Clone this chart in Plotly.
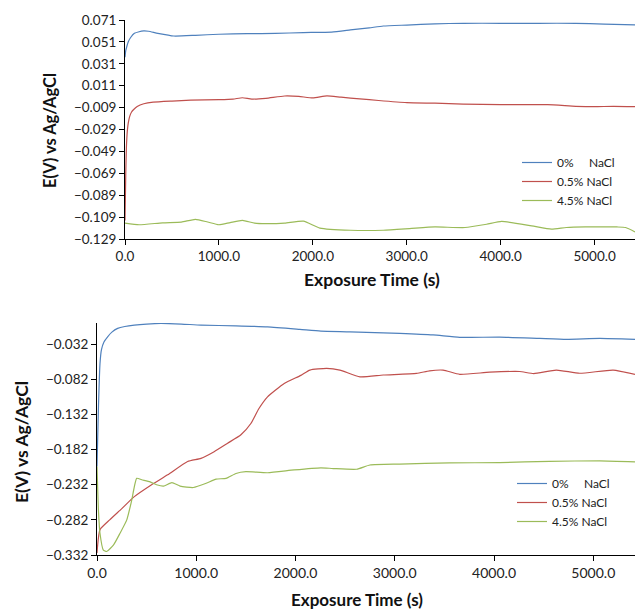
import plotly.graph_objects as go

# ---------------- Top panel data ----------------
top_blue_t = [0, 8, 20, 35, 60, 100, 150, 200, 250, 350, 520, 750, 1000, 1300, 1600, 1900, 2200, 2400, 2600, 2750, 3000, 3300, 3600, 4000, 4400, 4800, 5100, 5430]
top_blue_v = [0.037, 0.043, 0.047, 0.0512, 0.055, 0.0588, 0.0603, 0.061, 0.0607, 0.0588, 0.0564, 0.057, 0.058, 0.0585, 0.0588, 0.0595, 0.060, 0.0619, 0.0638, 0.0655, 0.0664, 0.0675, 0.068, 0.068, 0.068, 0.068, 0.0672, 0.0665]

top_red_t = [0, 8, 15, 25, 35, 50, 70, 90, 130, 200, 300, 500, 700, 1000, 1150, 1250, 1350, 1500, 1700, 1850, 2000, 2150, 2300, 2500, 2700, 3000, 3300, 3600, 4000, 4500, 4800, 5000, 5200, 5430]
top_red_v = [-0.112, -0.07, -0.045, -0.03, -0.023, -0.017, -0.013, -0.011, -0.008, -0.0055, -0.004, -0.003, -0.0022, -0.0017, -0.0012, 0.0, -0.0012, -0.0005, 0.0016, 0.0012, -0.0002, 0.0017, 0.0005, -0.001, -0.0025, -0.0044, -0.005, -0.0058, -0.0063, -0.0063, -0.0078, -0.0082, -0.0078, -0.0082]

top_green_t = [0, 150, 400, 600, 750, 880, 1000, 1120, 1250, 1380, 1500, 1700, 1900, 2075, 2400, 2750, 3030, 3300, 3620, 3850, 4010, 4330, 4540, 4700, 4900, 5240, 5330, 5430]
top_green_v = [-0.1145, -0.116, -0.1142, -0.1135, -0.111, -0.1135, -0.116, -0.114, -0.112, -0.1145, -0.115, -0.1145, -0.1127, -0.119, -0.121, -0.121, -0.1195, -0.118, -0.1185, -0.1155, -0.1129, -0.117, -0.120, -0.1185, -0.118, -0.118, -0.1185, -0.1225]

# ---------------- Bottom panel data ----------------
bot_blue_t = [0, 15, 30, 45, 70, 107, 150, 208, 280, 376, 500, 644, 850, 1047, 1400, 1718, 2044, 2255, 2548, 3050, 3386, 3654, 4057, 4460, 4729, 5065, 5420]
bot_blue_v = [-0.206, -0.12, -0.06, -0.04, -0.029, -0.0216, -0.015, -0.0097, -0.007, -0.005, -0.0035, -0.0026, -0.0035, -0.005, -0.006, -0.0074, -0.011, -0.0135, -0.0145, -0.0168, -0.019, -0.0225, -0.022, -0.024, -0.0253, -0.024, -0.0253]

bot_red_t = [0, 30, 128, 250, 376, 550, 712, 913, 1047, 1180, 1316, 1450, 1550, 1630, 1718, 1886, 2054, 2145, 2313, 2447, 2649, 2884, 3219, 3350, 3487, 3654, 3956, 4258, 4400, 4628, 4863, 5199, 5420]
bot_red_v = [-0.329, -0.296, -0.282, -0.266, -0.249, -0.232, -0.218, -0.199, -0.1945, -0.185, -0.173, -0.161, -0.145, -0.124, -0.107, -0.088, -0.0765, -0.069, -0.0666, -0.069, -0.0785, -0.076, -0.0737, -0.07, -0.069, -0.075, -0.072, -0.071, -0.074, -0.069, -0.0735, -0.069, -0.075]

bot_green_t = [0, 15, 30, 64, 97, 165, 232, 300, 350, 400, 450, 535, 600, 670, 755, 837, 970, 1100, 1200, 1300, 1400, 1500, 1718, 1986, 2255, 2380, 2615, 2750, 3050, 3554, 4057, 4560, 5065, 5420]
bot_green_v = [-0.206, -0.27, -0.301, -0.325, -0.327, -0.318, -0.301, -0.282, -0.254, -0.223, -0.225, -0.228, -0.232, -0.234, -0.229, -0.234, -0.236, -0.230, -0.224, -0.223, -0.216, -0.2135, -0.215, -0.211, -0.208, -0.209, -0.210, -0.204, -0.2027, -0.201, -0.2005, -0.1988, -0.198, -0.1995]

names = ["0%\u00a0\u00a0\u00a0\u00a0 NaCl", "0.5% NaCl", "4.5% NaCl"]
colors = ["#4F81BD", "#C0504D", "#9BBB59"]
x_title = "Exposure Time (s)"
y_title = "E(V) vs Ag/AgCl"

W, H = 635, 610

fig = go.Figure()

top_series = [(top_blue_t, top_blue_v), (top_red_t, top_red_v), (top_green_t, top_green_v)]
bot_series = [(bot_blue_t, bot_blue_v), (bot_red_t, bot_red_v), (bot_green_t, bot_green_v)]

for (t, v), n, c in zip(top_series, names, colors):
    fig.add_trace(go.Scatter(x=t, y=v, mode="lines", name=n,
                             line=dict(color=c, width=1.2, shape="spline", smoothing=0.5),
                             xaxis="x", yaxis="y", legend="legend"))
for (t, v), n, c in zip(bot_series, names, colors):
    fig.add_trace(go.Scatter(x=t, y=v, mode="lines", name=n,
                             line=dict(color=c, width=1.2, shape="spline", smoothing=0.5),
                             xaxis="x2", yaxis="y2", legend="legend2"))

FONT = "Lato, Open Sans, sans-serif"

def xax(size):
    return dict(showline=True, linecolor="black", linewidth=1, ticks="outside", ticklen=5,
                tickcolor="black", showgrid=False, zeroline=False, tickformat=".1f",
                dtick=1000, tick0=0, automargin=False,
                tickfont=dict(family=FONT, size=size, color="#222"))

def yax(size):
    return dict(showline=True, linecolor="black", linewidth=1, ticks="outside", ticklen=5,
                tickcolor="black", showgrid=False, zeroline=False, tickformat=".3f",
                automargin=False, tickfont=dict(family=FONT, size=size, color="#222"))

fig.update_layout(
    width=W, height=H,
    margin=dict(l=0, r=0, t=0, b=0, autoexpand=False),
    paper_bgcolor="white", plot_bgcolor="white",
    xaxis=dict(xax(13.5), domain=[125 / W, 1.0], anchor="y", range=[0, 5430]),
    yaxis=dict(yax(13.5), domain=[1 - 239 / H, 1 - 20 / H], anchor="x", range=[-0.129, 0.071],
               tick0=-0.129, dtick=0.02),
    xaxis2=dict(xax(14), domain=[97 / W, 1.0], anchor="y2", range=[0, 5420]),
    yaxis2=dict(yax(13.5), domain=[1 - 555 / H, 1 - 323 / H], anchor="x2", range=[-0.332, -0.002],
                tick0=-0.332, dtick=0.05),
    legend=dict(x=517 / W, xanchor="left", y=1 - 148 / H, yanchor="top",
                bgcolor="rgba(0,0,0,0)", font=dict(family=FONT, size=12, color="#222"),
                tracegroupgap=0),
    legend2=dict(x=512 / W, xanchor="left", y=1 - 469 / H, yanchor="top",
                 bgcolor="rgba(0,0,0,0)", font=dict(family=FONT, size=12, color="#222"),
                 tracegroupgap=0),
    showlegend=True,
)

tf = dict(family=FONT, color="#111", weight="bold")
fig.add_annotation(text="<b>" + x_title + "</b>", xref="paper", yref="paper",
                   x=372 / W, y=1 - 279 / H, xanchor="center", yanchor="middle",
                   showarrow=False, font=dict(tf, size=17.5))
fig.add_annotation(text="<b>" + x_title + "</b>", xref="paper", yref="paper",
                   x=357 / W, y=1 - 599 / H, xanchor="center", yanchor="middle",
                   showarrow=False, font=dict(tf, size=17))
fig.add_annotation(text="<b>" + y_title + "</b>", xref="paper", yref="paper",
                   x=50 / W, y=1 - 131 / H, xanchor="center", yanchor="middle", textangle=-90,
                   showarrow=False, font=dict(tf, size=16.5))
fig.add_annotation(text="<b>" + y_title + "</b>", xref="paper", yref="paper",
                   x=21 / W, y=1 - 442 / H, xanchor="center", yanchor="middle", textangle=-90,
                   showarrow=False, font=dict(tf, size=17.5))

fig.write_html("out.html", config={"displayModeBar": False},
               post_script="document.body.style.margin='0px';document.body.style.overflow='hidden';")
